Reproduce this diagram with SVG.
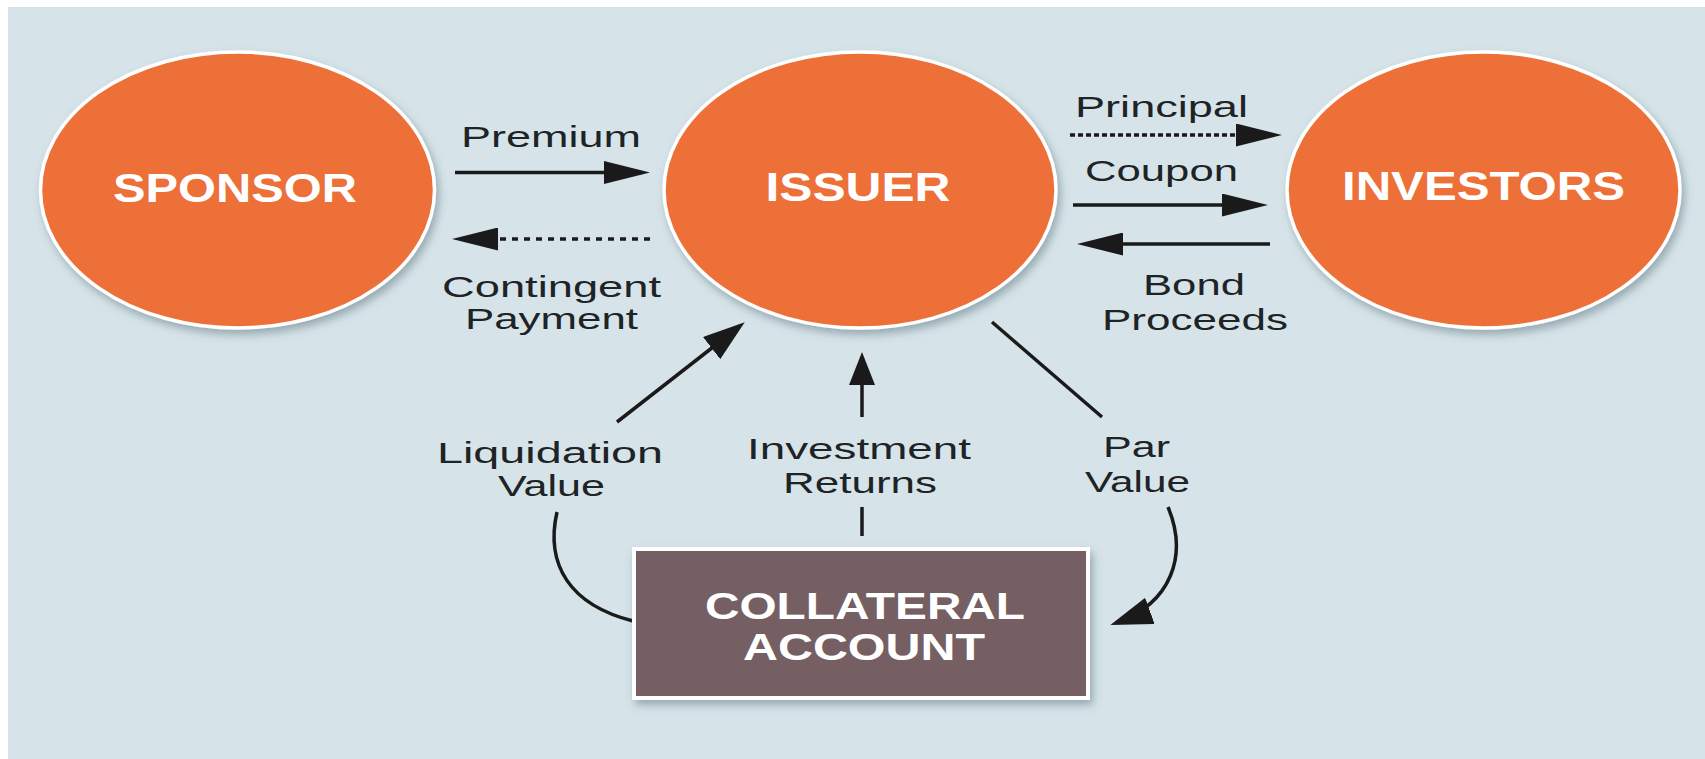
<svg xmlns="http://www.w3.org/2000/svg" width="1705" height="759" viewBox="0 0 1705 759">
<style>
.node{fill:#ec7039;stroke:#ffffff;stroke-width:3.5;filter:url(#sh)}
.box{fill:#745f63;stroke:#ffffff;stroke-width:4;filter:url(#sh)}
.nt{font-family:"Liberation Sans",Arial,sans-serif;font-weight:bold;font-size:40px;fill:#ffffff;text-anchor:middle}
.bt{font-size:36px}
.lb{font-family:"Liberation Sans",Arial,sans-serif;font-size:30px;fill:#1e2326;text-anchor:middle}
.ln{fill:none;stroke:#1a1a1a;stroke-width:3.5}
.dt{stroke-dasharray:6 6}
.dt2{stroke-dasharray:5 3}
</style>
<defs>
<filter id="sh" x="-20%" y="-20%" width="140%" height="140%">
<feDropShadow dx="3" dy="5" stdDeviation="4" flood-color="#4a6470" flood-opacity="0.45"/>
</filter>
<marker id="ah" markerUnits="userSpaceOnUse" markerWidth="46" markerHeight="23" refX="38" refY="11.5" orient="auto">
<path d="M0,0 L46,11.5 L0,23 Z" fill="#1a1a1a"/>
</marker>
<marker id="av" markerUnits="userSpaceOnUse" markerWidth="33" markerHeight="26" refX="27" refY="13" orient="auto">
<path d="M0,0 L33,13 L0,26 Z" fill="#1a1a1a"/>
</marker>
<marker id="ad" markerUnits="userSpaceOnUse" markerWidth="42" markerHeight="28" refX="36" refY="14" orient="auto">
<path d="M0,0 L42,14 L0,28 Z" fill="#1a1a1a"/>
</marker>
</defs>
<rect x="8" y="7" width="1697" height="752" fill="#d6e4e9"/>
<g id="connectors">
<path class="ln" d="M455,172.5 L642,172.5" marker-end="url(#ah)"/>
<path class="ln dt" d="M650,239 L460,239" marker-end="url(#ah)"/>
<path class="ln dt2" d="M1070,135 L1274,135" marker-end="url(#ah)"/>
<path class="ln" d="M1073,205 L1260,205" marker-end="url(#ah)"/>
<path class="ln" d="M1270,244 L1085,244" marker-end="url(#ah)"/>
<path class="ln" d="M617,422 L740,326" marker-end="url(#ad)"/>
<path class="ln" d="M862,417 L862,358" marker-end="url(#av)"/>
<path class="ln" d="M862,507 L862,536"/>
<path class="ln" d="M992,322 L1102,417"/>
<path class="ln" d="M1168,507 C1188,555 1172,603 1116,623" marker-end="url(#ad)"/>
<path class="ln" d="M557,512 C545,565 570,605 633,621"/>
<text class="lb" x="551" y="147" textLength="180" lengthAdjust="spacingAndGlyphs">Premium</text>
<text class="lb" x="551.5" y="297" textLength="219" lengthAdjust="spacingAndGlyphs">Contingent</text>
<text class="lb" x="551.5" y="329" textLength="173" lengthAdjust="spacingAndGlyphs">Payment</text>
<text class="lb" x="1161.5" y="117" textLength="173" lengthAdjust="spacingAndGlyphs">Principal</text>
<text class="lb" x="1161.5" y="181" textLength="153" lengthAdjust="spacingAndGlyphs">Coupon</text>
<text class="lb" x="1194" y="295" textLength="102" lengthAdjust="spacingAndGlyphs">Bond</text>
<text class="lb" x="1195" y="330" textLength="186" lengthAdjust="spacingAndGlyphs">Proceeds</text>
<text class="lb" x="550" y="463" textLength="226" lengthAdjust="spacingAndGlyphs">Liquidation</text>
<text class="lb" x="551.5" y="496" textLength="107" lengthAdjust="spacingAndGlyphs">Value</text>
<text class="lb" x="859" y="459" textLength="224" lengthAdjust="spacingAndGlyphs">Investment</text>
<text class="lb" x="860" y="493" textLength="154" lengthAdjust="spacingAndGlyphs">Returns</text>
<text class="lb" x="1136.5" y="457" textLength="67" lengthAdjust="spacingAndGlyphs">Par</text>
<text class="lb" x="1137.5" y="492" textLength="105" lengthAdjust="spacingAndGlyphs">Value</text>
</g>
<g id="sponsor">
<ellipse class="node" cx="237.5" cy="190" rx="197" ry="138"/>
<text class="nt" x="235" y="202" textLength="244" lengthAdjust="spacingAndGlyphs">SPONSOR</text>
</g>
<g id="issuer">
<ellipse class="node" cx="860" cy="190" rx="196" ry="138"/>
<text class="nt" x="858" y="201" textLength="185" lengthAdjust="spacingAndGlyphs">ISSUER</text>
</g>
<g id="investors">
<ellipse class="node" cx="1483.5" cy="190" rx="196.5" ry="138"/>
<text class="nt" x="1483.5" y="200" textLength="283" lengthAdjust="spacingAndGlyphs">INVESTORS</text>
</g>
<g id="collateral">
<rect class="box" x="634" y="549" width="454" height="149"/>
<text class="nt bt" x="865" y="619" textLength="320" lengthAdjust="spacingAndGlyphs">COLLATERAL</text>
<text class="nt bt" x="864" y="660" textLength="242" lengthAdjust="spacingAndGlyphs">ACCOUNT</text>
</g>
</svg>
